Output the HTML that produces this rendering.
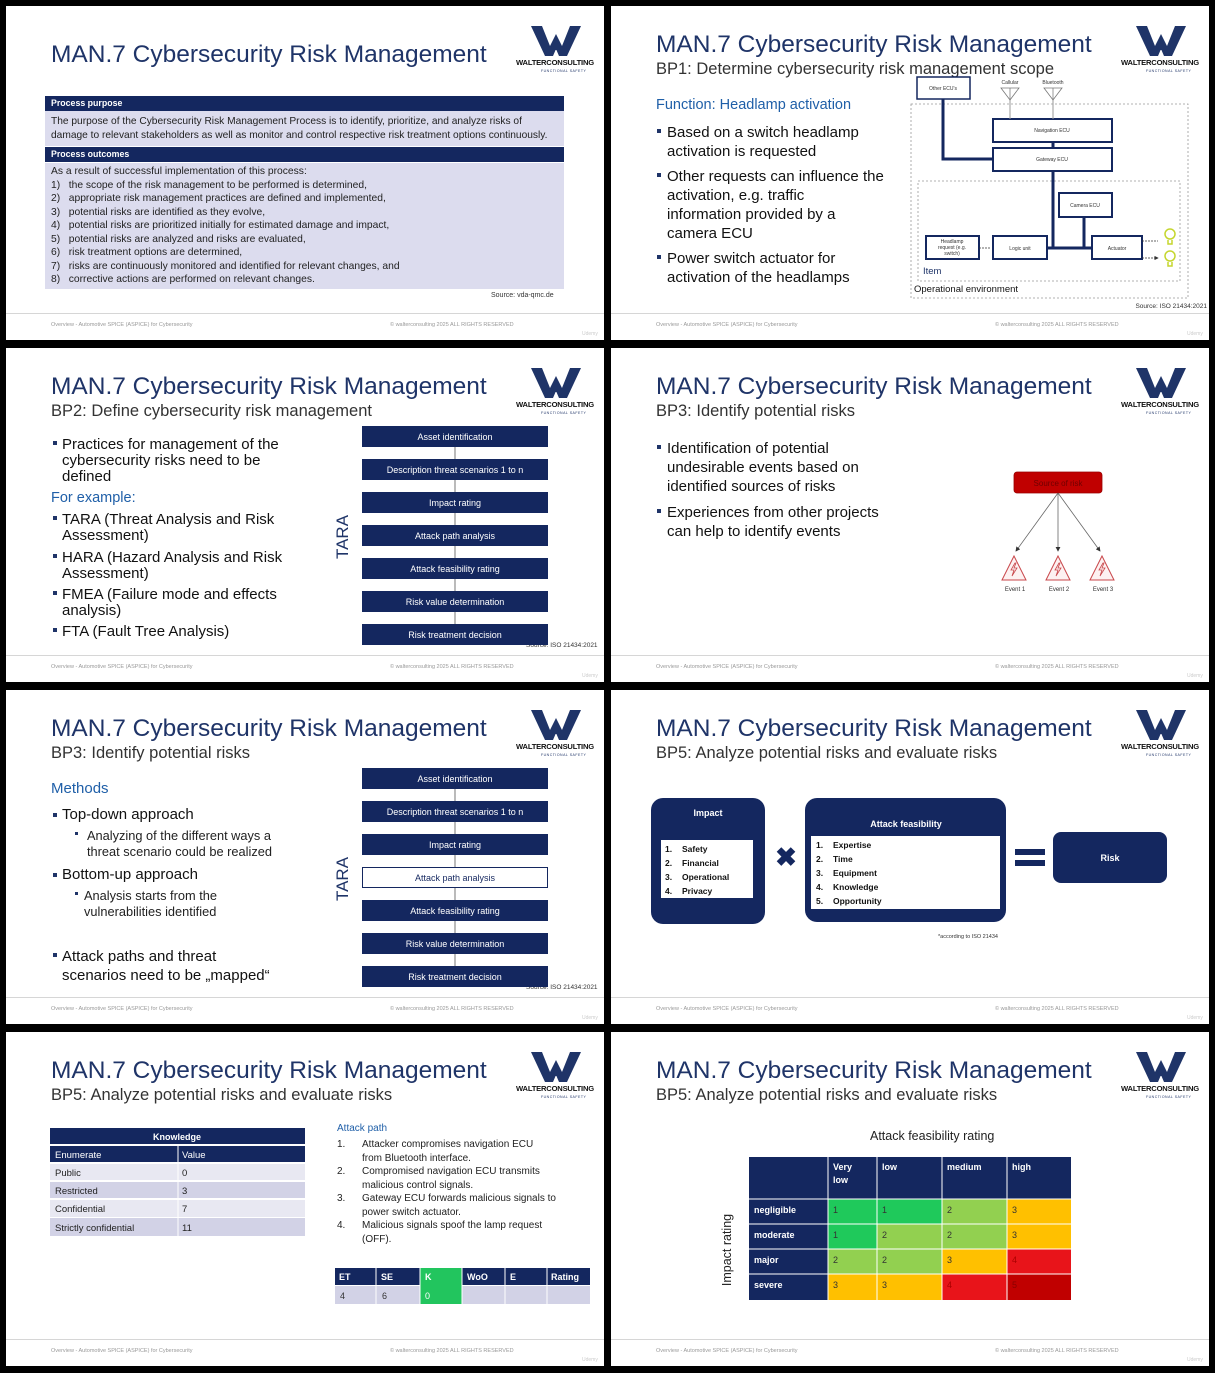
<!DOCTYPE html>
<html><head><meta charset="utf-8"><style>
*{margin:0;padding:0;box-sizing:border-box}
body{width:1215px;height:1373px;background:#000;position:relative;overflow:hidden;font-family:"Liberation Sans",sans-serif}
.s{position:absolute;width:598px;height:334px;background:#fff;overflow:hidden}
.t{position:absolute;white-space:nowrap;line-height:1}
.ti{left:45px;font-size:24.5px;color:#1f3468}
.st{left:45px;top:55px;font-size:16.5px;color:#333}
.wc{left:510px;top:53px;font-size:7.6px;font-weight:bold;color:#111;letter-spacing:-0.2px}
.fs{left:535px;top:64px;font-size:3.5px;color:#1f3468;letter-spacing:0.5px}
.fl{position:absolute;left:0;top:307px;width:598px;height:1px;background:#d6d6d6}
.ft{top:317px;font-size:5.5px;color:#999}
.ud{left:576px;top:326px;font-size:5px;color:#ccc}
.b{font-size:15px;color:#111}
.sq{position:absolute;width:4px;height:4px;background:#1f3468}
svg.ov{position:absolute;left:0;top:0}
</style></head><body>

<div class="s" style="left:6px;top:6px">
<div class="t ti" style="top:37px">MAN.7 Cybersecurity Risk Management</div>
<div class="t wc">WALTERCONSULTING</div><div class="t fs">FUNCTIONAL SAFETY</div>
<div style="position:absolute;left:39px;top:90px;width:519px;height:15px;background:#14275f"></div>
<div class="t" style="left:45px;top:93px;font-size:8.8px;color:#fff;font-weight:bold">Process purpose</div>
<div style="position:absolute;left:39px;top:105px;width:519px;height:35px;background:#dcdcee"></div>
<div class="t" style="left:45px;top:109px;font-size:10.2px;color:#222;line-height:13.5px">The purpose of the Cybersecurity Risk Management Process is to identify, prioritize, and analyze risks of<br>damage to relevant stakeholders as well as monitor and control respective risk treatment options continuously.</div>
<div style="position:absolute;left:39px;top:141px;width:519px;height:15px;background:#14275f"></div>
<div class="t" style="left:45px;top:144px;font-size:8.8px;color:#fff;font-weight:bold">Process outcomes</div>
<div style="position:absolute;left:39px;top:157px;width:519px;height:126px;background:#dcdcee"></div>
<div class="t" style="left:45px;top:159px;font-size:10.3px;color:#222;line-height:13.5px">As a result of successful implementation of this process:<br>1)&nbsp;&nbsp; the scope of the risk management to be performed is determined,<br>2)&nbsp;&nbsp; appropriate risk management practices are defined and implemented,<br>3)&nbsp;&nbsp; potential risks are identified as they evolve,<br>4)&nbsp;&nbsp; potential risks are prioritized initially for estimated damage and impact,<br>5)&nbsp;&nbsp; potential risks are analyzed and risks are evaluated,<br>6)&nbsp;&nbsp; risk treatment options are determined,<br>7)&nbsp;&nbsp; risks are continuously monitored and identified for relevant changes, and<br>8)&nbsp;&nbsp; corrective actions are performed on relevant changes.</div>
<div class="t" style="left:485px;top:286px;font-size:7px;color:#333">Source: vda-qmc.de</div>
<div class="fl"></div><div class="t ft" style="left:45px">Overview - Automotive SPICE (ASPICE) for Cybersecurity</div><div class="t ft" style="left:384px">© walterconsulting 2025 ALL RIGHTS RESERVED</div><div class="t ud">Udemy</div>
</div>

<div class="s" style="left:611px;top:6px">
<div class="t ti" style="top:27px">MAN.7 Cybersecurity Risk Management</div>
<div class="t st">BP1: Determine cybersecurity risk management scope</div>
<div class="t wc">WALTERCONSULTING</div><div class="t fs">FUNCTIONAL SAFETY</div>
<div class="t" style="left:45px;top:92px;font-size:14.5px;color:#1f5fa8">Function: Headlamp activation</div>
<div class="sq" style="left:46px;top:123px"></div><div class="sq" style="left:46px;top:167px"></div><div class="sq" style="left:46px;top:249px"></div>
<div class="t b" style="left:56px;top:117px;line-height:19px">Based on a switch headlamp<br>activation is requested</div>
<div class="t b" style="left:56px;top:161px;line-height:19px">Other requests can influence the<br>activation, e.g. traffic<br>information provided by a<br>camera ECU</div>
<div class="t b" style="left:56px;top:243px;line-height:19px">Power switch actuator for<br>activation of the headlamps</div>
<div class="fl"></div><div class="t ft" style="left:45px">Overview - Automotive SPICE (ASPICE) for Cybersecurity</div><div class="t ft" style="left:384px">© walterconsulting 2025 ALL RIGHTS RESERVED</div><div class="t ud">Udemy</div>
</div>

<div class="s" style="left:6px;top:348px">
<div class="t ti" style="top:27px">MAN.7 Cybersecurity Risk Management</div>
<div class="t st">BP2: Define cybersecurity risk management</div>
<div class="t wc">WALTERCONSULTING</div><div class="t fs">FUNCTIONAL SAFETY</div>
<div class="sq" style="left:47px;top:93px"></div>
<div class="t b" style="left:56px;top:89px;line-height:16px">Practices for management of the<br>cybersecurity risks need to be<br>defined</div>
<div class="t" style="left:45px;top:143px;font-size:14.5px;color:#1f5fa8">For example:</div>
<div class="sq" style="left:47px;top:168px"></div><div class="sq" style="left:47px;top:206px"></div><div class="sq" style="left:47px;top:243px"></div><div class="sq" style="left:47px;top:280px"></div>
<div class="t b" style="left:56px;top:164px;line-height:16px">TARA (Threat Analysis and Risk<br>Assessment)</div>
<div class="t b" style="left:56px;top:202px;line-height:16px">HARA (Hazard Analysis and Risk<br>Assessment)</div>
<div class="t b" style="left:56px;top:239px;line-height:16px">FMEA (Failure mode and effects<br>analysis)</div>
<div class="t b" style="left:56px;top:276px;line-height:16px">FTA (Fault Tree Analysis)</div>
<div class="t" style="left:520px;top:295px;font-size:6.5px;color:#333">Source: ISO 21434:2021</div>
<div class="fl"></div><div class="t ft" style="left:45px">Overview - Automotive SPICE (ASPICE) for Cybersecurity</div><div class="t ft" style="left:384px">© walterconsulting 2025 ALL RIGHTS RESERVED</div><div class="t ud">Udemy</div>
</div>

<div class="s" style="left:611px;top:348px">
<div class="t ti" style="top:27px">MAN.7 Cybersecurity Risk Management</div>
<div class="t st">BP3: Identify potential risks</div>
<div class="t wc">WALTERCONSULTING</div><div class="t fs">FUNCTIONAL SAFETY</div>
<div class="sq" style="left:46px;top:97px"></div><div class="sq" style="left:46px;top:161px"></div>
<div class="t b" style="left:56px;top:91px;line-height:19px">Identification of potential<br>undesirable events based on<br>identified sources of risks</div>
<div class="t b" style="left:56px;top:155px;line-height:19px">Experiences from other projects<br>can help to identify events</div>
<div class="fl"></div><div class="t ft" style="left:45px">Overview - Automotive SPICE (ASPICE) for Cybersecurity</div><div class="t ft" style="left:384px">© walterconsulting 2025 ALL RIGHTS RESERVED</div><div class="t ud">Udemy</div>
</div>

<div class="s" style="left:6px;top:690px">
<div class="t ti" style="top:27px">MAN.7 Cybersecurity Risk Management</div>
<div class="t st">BP3: Identify potential risks</div>
<div class="t wc">WALTERCONSULTING</div><div class="t fs">FUNCTIONAL SAFETY</div>
<div class="t" style="left:45px;top:91px;font-size:15px;color:#1f5fa8">Methods</div>
<div class="sq" style="left:47px;top:123px"></div>
<div class="t b" style="left:56px;top:117px">Top-down approach</div>
<div class="sq" style="left:69px;top:142px;width:3px;height:3px"></div>
<div class="t" style="left:81px;top:138px;font-size:12.8px;color:#222;line-height:16px">Analyzing of the different ways a<br>threat scenario could be realized</div>
<div class="sq" style="left:47px;top:183px"></div>
<div class="t b" style="left:56px;top:177px">Bottom-up approach</div>
<div class="sq" style="left:69px;top:202px;width:3px;height:3px"></div>
<div class="t" style="left:78px;top:198px;font-size:12.8px;color:#222;line-height:16px">Analysis starts from the<br>vulnerabilities identified</div>
<div class="sq" style="left:47px;top:263px"></div>
<div class="t b" style="left:56px;top:257px;line-height:19px">Attack paths and threat<br>scenarios need to be „mapped“</div>
<div class="t" style="left:520px;top:295px;font-size:6.5px;color:#333">Source: ISO 21434:2021</div>
<div class="fl"></div><div class="t ft" style="left:45px">Overview - Automotive SPICE (ASPICE) for Cybersecurity</div><div class="t ft" style="left:384px">© walterconsulting 2025 ALL RIGHTS RESERVED</div><div class="t ud">Udemy</div>
</div>

<div class="s" style="left:611px;top:690px">
<div class="t ti" style="top:27px">MAN.7 Cybersecurity Risk Management</div>
<div class="t st">BP5: Analyze potential risks and evaluate risks</div>
<div class="t wc">WALTERCONSULTING</div><div class="t fs">FUNCTIONAL SAFETY</div>
<div class="fl"></div><div class="t ft" style="left:45px">Overview - Automotive SPICE (ASPICE) for Cybersecurity</div><div class="t ft" style="left:384px">© walterconsulting 2025 ALL RIGHTS RESERVED</div><div class="t ud">Udemy</div>
</div>

<div class="s" style="left:6px;top:1032px">
<div class="t ti" style="top:27px">MAN.7 Cybersecurity Risk Management</div>
<div class="t st">BP5: Analyze potential risks and evaluate risks</div>
<div class="t wc">WALTERCONSULTING</div><div class="t fs">FUNCTIONAL SAFETY</div>
<div class="t" style="left:331px;top:92px;font-size:10px;color:#1f5fa8">Attack path</div>
<div class="t" style="left:331px;top:106px;font-size:10px;color:#222;line-height:13.5px">1.<br><br>2.<br><br>3.<br><br>4.</div>
<div class="t" style="left:356px;top:106px;font-size:10px;color:#222;line-height:13.5px">Attacker compromises navigation ECU<br>from Bluetooth interface.<br>Compromised navigation ECU transmits<br>malicious control signals.<br>Gateway ECU forwards malicious signals to<br>power switch actuator.<br>Malicious signals spoof the lamp request<br>(OFF).</div>
<div class="fl"></div><div class="t ft" style="left:45px">Overview - Automotive SPICE (ASPICE) for Cybersecurity</div><div class="t ft" style="left:384px">© walterconsulting 2025 ALL RIGHTS RESERVED</div><div class="t ud">Udemy</div>
</div>

<div class="s" style="left:611px;top:1032px">
<div class="t ti" style="top:27px">MAN.7 Cybersecurity Risk Management</div>
<div class="t st">BP5: Analyze potential risks and evaluate risks</div>
<div class="t wc">WALTERCONSULTING</div><div class="t fs">FUNCTIONAL SAFETY</div>
<div class="t" style="left:259px;top:98px;font-size:12.5px;color:#222">Attack feasibility rating</div>
<div class="fl"></div><div class="t ft" style="left:45px">Overview - Automotive SPICE (ASPICE) for Cybersecurity</div><div class="t ft" style="left:384px">© walterconsulting 2025 ALL RIGHTS RESERVED</div><div class="t ud">Udemy</div>
</div>

<svg class="ov" width="1215" height="1373" viewBox="0 0 1215 1373" font-family="Liberation Sans, sans-serif">
<defs>
<g id="logo"><polygon points="0,0 11,0 19,20 25,8 31,20 39,0 50,0 36,30 28,30 25,23 22,30 14,30" fill="#1f3468"/><polygon points="25,15 29,24 21,24" fill="#1f3468"/></g>
<marker id="ah" markerWidth="6" markerHeight="6" refX="5" refY="3" orient="auto"><path d="M0,0 L6,3 L0,6Z" fill="#333"/></marker>
<g id="tri"><polygon points="0,-12 -12,12 12,12" fill="#fdf1f1" stroke="#c8464a" stroke-width="1"/><path d="M1,-5 L-3,2 L0,2 L-2,8 L3,0 L0,0 L2,-5Z" fill="none" stroke="#c8464a" stroke-width="0.8"/></g>
</defs>
<use href="#logo" x="531" y="26"/><use href="#logo" x="1136" y="26"/>
<use href="#logo" x="531" y="368"/><use href="#logo" x="1136" y="368"/>
<use href="#logo" x="531" y="710"/><use href="#logo" x="1136" y="710"/>
<use href="#logo" x="531" y="1052"/><use href="#logo" x="1136" y="1052"/>

<g fill="none" stroke="#14275f">
<rect x="911" y="104" width="277" height="194" stroke="#999" stroke-dasharray="2,2" stroke-width="0.8"/>
<rect x="918" y="181" width="262" height="100" stroke="#999" stroke-dasharray="2,2" stroke-width="0.8"/>
<path d="M943,99 V159 H993 M1053,142 V148 M1053,171 V248 M1047,248 H1092 M1084,217 V248" stroke-width="3"/>
<rect x="917" y="77" width="53" height="22" stroke-width="1.5" fill="#fff"/>
<rect x="993" y="119" width="119" height="23" stroke-width="2" fill="#fff"/>
<rect x="993" y="148" width="119" height="23" stroke-width="2" fill="#fff"/>
<rect x="1059" y="193" width="53" height="24" stroke-width="2" fill="#fff"/>
<rect x="926" y="236" width="53" height="23" stroke-width="2" fill="#fff"/>
<rect x="993" y="236" width="54" height="23" stroke-width="2" fill="#fff"/>
<rect x="1092" y="236" width="50" height="23" stroke-width="2" fill="#fff"/>
<path d="M1010,88 V119 M1053,88 V119" stroke="#999" stroke-width="1"/>
<path d="M1001,88 H1019 L1010,100Z M1044,88 H1062 L1053,100Z" stroke="#777" stroke-width="0.8"/>
<path d="M979,248 H991 M1142,241 H1158 M1142,258 H1158" stroke="#333" stroke-width="0.7" stroke-dasharray="2,1" marker-end="url(#ah)"/>
<circle cx="1170" cy="234" r="5" stroke="#c5d62e" stroke-width="1.5"/><circle cx="1170" cy="256" r="5" stroke="#c5d62e" stroke-width="1.5"/>
<path d="M1168,240 V244 H1172 V240 M1168,262 V266 H1172 V262" stroke="#c5d62e" stroke-width="1.5"/>
</g>
<g font-size="5" fill="#333" text-anchor="middle">
<text x="943" y="90">Other ECU's</text><text x="1010" y="84">Callular</text><text x="1053" y="84">Bluetooth</text>
<text x="1052" y="132">Navigation ECU</text><text x="1052" y="161">Gateway ECU</text><text x="1085" y="207">Camera ECU</text>
<text x="952" y="243">Headlamp</text><text x="952" y="249">request (e.g.</text><text x="952" y="255">switch)</text>
<text x="1020" y="250">Logic unit</text><text x="1117" y="250">Actuator</text>
</g>
<text x="923" y="274" font-size="9.5" fill="#1f3468">Item</text>
<text x="914" y="292" font-size="9.5" fill="#111">Operational environment</text>
<text x="1207" y="308" font-size="6.5" fill="#333" text-anchor="end">Source: ISO 21434:2021</text>

<g>
<g stroke="#555" stroke-width="0.8"><path d="M455,447 V459 M455,480 V492 M455,513 V525 M455,546 V558 M455,579 V591 M455,612 V624"/></g>
<g fill="#14275f"><rect x="362" y="426" width="186" height="21"/><rect x="362" y="459" width="186" height="21"/><rect x="362" y="492" width="186" height="21"/><rect x="362" y="525" width="186" height="21"/><rect x="362" y="558" width="186" height="21"/><rect x="362" y="591" width="186" height="21"/><rect x="362" y="624" width="186" height="21"/></g>
<g font-size="9" fill="#fff" text-anchor="middle">
<text x="455" y="440">Asset identification</text><text x="455" y="473">Description threat scenarios 1 to n</text><text x="455" y="506">Impact rating</text><text x="455" y="539">Attack path analysis</text><text x="455" y="572">Attack feasibility rating</text><text x="455" y="605">Risk value determination</text><text x="455" y="638">Risk treatment decision</text></g>
<text x="348" y="537" font-size="17" fill="#1f3468" text-anchor="middle" transform="rotate(-90 348 537)">TARA</text>
</g>
<g transform="translate(0,342)">
<g stroke="#555" stroke-width="0.8"><path d="M455,447 V459 M455,480 V492 M455,513 V525 M455,546 V558 M455,579 V591 M455,612 V624"/></g>
<g fill="#14275f"><rect x="362" y="426" width="186" height="21"/><rect x="362" y="459" width="186" height="21"/><rect x="362" y="492" width="186" height="21"/><rect x="362.5" y="525.5" width="185" height="20" fill="#fff" stroke="#14275f"/><rect x="362" y="558" width="186" height="21"/><rect x="362" y="591" width="186" height="21"/><rect x="362" y="624" width="186" height="21"/></g>
<g font-size="9" fill="#fff" text-anchor="middle">
<text x="455" y="440">Asset identification</text><text x="455" y="473">Description threat scenarios 1 to n</text><text x="455" y="506">Impact rating</text><text x="455" y="539" fill="#14275f">Attack path analysis</text><text x="455" y="572">Attack feasibility rating</text><text x="455" y="605">Risk value determination</text><text x="455" y="638">Risk treatment decision</text></g>
<text x="348" y="537" font-size="17" fill="#1f3468" text-anchor="middle" transform="rotate(-90 348 537)">TARA</text>
</g>

<rect x="1014" y="472" width="88" height="21" rx="3" fill="#c00000" stroke="#900" stroke-width="0.8"/>
<text x="1058" y="486" font-size="8" fill="#700000" text-anchor="middle">Source of risk</text>
<g stroke="#666" stroke-width="0.8" marker-end="url(#ah)"><path d="M1058,493 L1016,551"/><path d="M1058,493 V551"/><path d="M1058,493 L1100,551"/></g>
<use href="#tri" x="1014" y="568"/><use href="#tri" x="1058" y="568"/><use href="#tri" x="1102" y="568"/>
<g font-size="6" fill="#333" text-anchor="middle"><text x="1015" y="591">Event 1</text><text x="1059" y="591">Event 2</text><text x="1103" y="591">Event 3</text></g>

<rect x="651" y="798" width="114" height="126" rx="12" fill="#14275f"/>
<rect x="661" y="840" width="92" height="58" fill="#fff"/>
<text x="708" y="816" font-size="9" fill="#fff" font-weight="bold" text-anchor="middle">Impact</text>
<g font-size="8.5" font-weight="bold" fill="#111"><text x="665" y="852">1.</text><text x="665" y="866">2.</text><text x="665" y="880">3.</text><text x="665" y="894">4.</text>
<text x="682" y="852">Safety</text><text x="682" y="866">Financial</text><text x="682" y="880">Operational</text><text x="682" y="894">Privacy</text></g>
<text x="786" y="866" font-size="26" fill="#14275f" font-weight="bold" text-anchor="middle">✖</text>
<rect x="805" y="798" width="201" height="124" rx="12" fill="#14275f"/>
<rect x="811" y="836" width="189" height="73" fill="#fff"/>
<text x="906" y="827" font-size="9" fill="#fff" font-weight="bold" text-anchor="middle">Attack feasibility</text>
<g font-size="8.5" font-weight="bold" fill="#111"><text x="816" y="848">1.</text><text x="816" y="862">2.</text><text x="816" y="876">3.</text><text x="816" y="890">4.</text><text x="816" y="904">5.</text>
<text x="833" y="848">Expertise</text><text x="833" y="862">Time</text><text x="833" y="876">Equipment</text><text x="833" y="890">Knowledge</text><text x="833" y="904">Opportunity</text></g>
<rect x="1015" y="849" width="30" height="6" fill="#14275f"/><rect x="1015" y="860" width="30" height="6" fill="#14275f"/>
<rect x="1053" y="832" width="114" height="51" rx="8" fill="#14275f"/>
<text x="1110" y="861" font-size="9" fill="#fff" font-weight="bold" text-anchor="middle">Risk</text>
<text x="968" y="938" font-size="5.5" fill="#333" text-anchor="middle">*according to ISO 21434</text>

<rect x="50" y="1128" width="255" height="16" fill="#14275f"/>
<text x="177" y="1140" font-size="9" fill="#fff" font-weight="bold" text-anchor="middle">Knowledge</text>
<rect x="50" y="1146" width="255" height="16" fill="#14275f"/>
<rect x="50" y="1164" width="255" height="16" fill="#e8e8f2"/><rect x="50" y="1182" width="255" height="16" fill="#d2d2e6"/>
<rect x="50" y="1200" width="255" height="17" fill="#e8e8f2"/><rect x="50" y="1218" width="255" height="18" fill="#d2d2e6"/>
<line x1="178" y1="1146" x2="178" y2="1236" stroke="#fff"/>
<g font-size="9.5" fill="#222"><text x="55" y="1158" fill="#fff">Enumerate</text><text x="182" y="1158" fill="#fff">Value</text>
<text x="55" y="1176">Public</text><text x="182" y="1176">0</text><text x="55" y="1194">Restricted</text><text x="182" y="1194">3</text>
<text x="55" y="1212">Confidential</text><text x="182" y="1212">7</text><text x="55" y="1231">Strictly confidential</text><text x="182" y="1231">11</text></g>
<rect x="335" y="1268" width="255" height="17" fill="#14275f"/>
<rect x="335" y="1286" width="255" height="18" fill="#d2d2e6"/>
<rect x="420" y="1268" width="42" height="36" fill="#22c55e"/>
<g stroke="#fff" stroke-width="1"><path d="M376,1268 V1304 M420,1268 V1304 M462,1268 V1304 M505,1268 V1304 M547,1268 V1304"/></g>
<g font-size="9" font-weight="bold" fill="#fff"><text x="339" y="1280">ET</text><text x="381" y="1280">SE</text><text x="425" y="1280">K</text><text x="467" y="1280">WoO</text><text x="510" y="1280">E</text><text x="551" y="1280">Rating</text></g>
<g font-size="9" fill="#333"><text x="340" y="1299">4</text><text x="382" y="1299">6</text><text x="425" y="1299" fill="#fff">0</text></g>

<rect x="749" y="1157" width="322" height="143" fill="#14275f"/>
<g>
<rect x="828" y="1199" width="49" height="25" fill="#1fc95b"/><rect x="877" y="1199" width="65" height="25" fill="#1fc95b"/><rect x="942" y="1199" width="65" height="25" fill="#92d050"/><rect x="1007" y="1199" width="64" height="25" fill="#ffc000"/>
<rect x="828" y="1224" width="49" height="25" fill="#1fc95b"/><rect x="877" y="1224" width="65" height="25" fill="#92d050"/><rect x="942" y="1224" width="65" height="25" fill="#92d050"/><rect x="1007" y="1224" width="64" height="25" fill="#ffc000"/>
<rect x="828" y="1249" width="49" height="25" fill="#92d050"/><rect x="877" y="1249" width="65" height="25" fill="#92d050"/><rect x="942" y="1249" width="65" height="25" fill="#ffc000"/><rect x="1007" y="1249" width="64" height="25" fill="#e8141a"/>
<rect x="828" y="1274" width="49" height="26" fill="#ffc000"/><rect x="877" y="1274" width="65" height="26" fill="#ffc000"/><rect x="942" y="1274" width="65" height="26" fill="#e8141a"/><rect x="1007" y="1274" width="64" height="26" fill="#c00000"/>
</g>
<g stroke="#fff" stroke-width="1" fill="none"><path d="M828,1157 V1300 M877,1157 V1300 M942,1157 V1300 M1007,1157 V1300 M749,1199 H1071 M749,1224 H1071 M749,1249 H1071 M749,1274 H1071"/></g>
<g font-size="9" font-weight="bold" fill="#fff"><text x="833" y="1170">Very</text><text x="833" y="1183">low</text><text x="882" y="1170">low</text><text x="947" y="1170">medium</text><text x="1012" y="1170">high</text>
<text x="754" y="1213">negligible</text><text x="754" y="1238">moderate</text><text x="754" y="1263">major</text><text x="754" y="1288">severe</text></g>
<g font-size="9" fill="#333"><text x="833" y="1213">1</text><text x="882" y="1213">1</text><text x="947" y="1213">2</text><text x="1012" y="1213">3</text>
<text x="833" y="1238">1</text><text x="882" y="1238">2</text><text x="947" y="1238">2</text><text x="1012" y="1238">3</text>
<text x="833" y="1263">2</text><text x="882" y="1263">2</text><text x="947" y="1263">3</text><text x="1012" y="1263" fill="#a00">4</text>
<text x="833" y="1288">3</text><text x="882" y="1288">3</text><text x="947" y="1288" fill="#a00">4</text><text x="1012" y="1288" fill="#800">5</text></g>
<text x="731" y="1250" font-size="12.5" fill="#222" text-anchor="middle" transform="rotate(-90 731 1250)">Impact rating</text>
</svg>
</body></html>
